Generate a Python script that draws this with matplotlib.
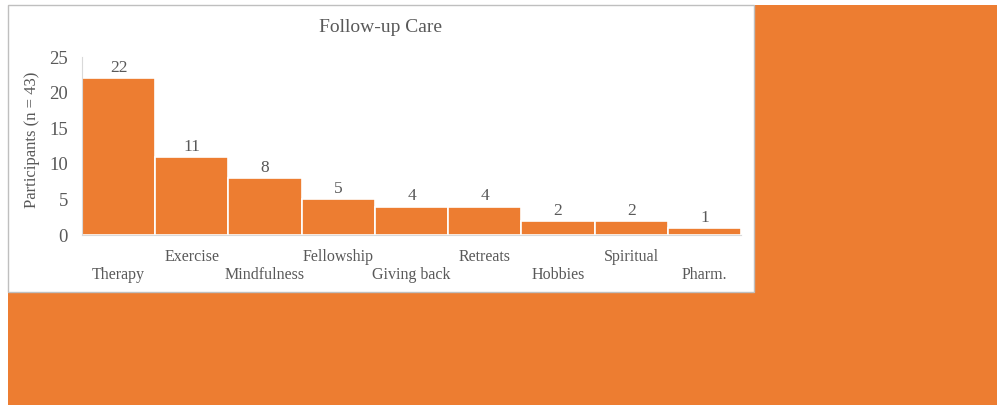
import matplotlib.pyplot as plt
from matplotlib.patches import Rectangle

categories = ['Therapy', 'Exercise', 'Mindfulness', 'Fellowship', 'Giving back',
              'Retreats', 'Hobbies', 'Spiritual', 'Pharm.']
participants = [22, 11, 8, 5, 4, 4, 2, 2, 1]

orange = '#ED7D31'
gray = '#595959'
W, H = 997, 405

plt.rcParams['font.family'] = ['Liberation Serif', 'DejaVu Serif']

fig = plt.figure(figsize=(W / 100, H / 100), dpi=100, facecolor='white')

# orange slide background and white chart box
fig.patches.append(Rectangle((8 / W, 0), 1 - 8 / W, 1 - 5 / H, transform=fig.transFigure,
                             facecolor=orange, edgecolor='none', zorder=-10))
fig.patches.append(Rectangle((8 / W, 1 - 292 / H), (754 - 8) / W, (292 - 5) / H,
                             transform=fig.transFigure, facecolor='white',
                             edgecolor='#BFBFBF', linewidth=1, zorder=-9))

ax = fig.add_axes([82 / W, 1 - 235 / H, (741 - 82) / W, (235 - 57) / H])
ax.patch.set_alpha(0)

x = range(len(categories))
ax.bar(x, participants, width=1.0, color=orange, edgecolor='white', linewidth=1.2)
ax.set_xlim(-0.5, len(categories) - 0.5)
ax.set_ylim(0, 25)
ax.set_yticks([0, 5, 10, 15, 20, 25])
ax.tick_params(axis='y', length=0, labelsize=13.5, labelcolor=gray, pad=10)
ax.set_xticks([])

for s in ['top', 'right']:
    ax.spines[s].set_visible(False)
ax.spines['left'].set_color('#D9D9D9')
ax.spines['bottom'].set_color('#D9D9D9')

for i, v in enumerate(participants):
    ax.annotate(str(v), (i, v), xytext=(0, 1.5), textcoords='offset points',
                ha='center', va='bottom', fontsize=12.5, color=gray)

# staggered category labels
for i, c in enumerate(categories):
    off = -29 if i % 2 == 0 else -15.5
    ax.annotate(c, (i, 0), xycoords=('data', 'axes fraction'), xytext=(0, off),
                textcoords='offset points', ha='center', va='center',
                fontsize=11.5, color=gray)

ax.set_ylabel('Participants (n = 43)', fontsize=12, color=gray)
ax.yaxis.set_label_coords(-0.063, 0.535)
fig.text(380 / W, 1 - 28 / H, 'Follow-up Care', ha='center', va='center',
         fontsize=14, color=gray)

fig.savefig('out.png', dpi=100)
